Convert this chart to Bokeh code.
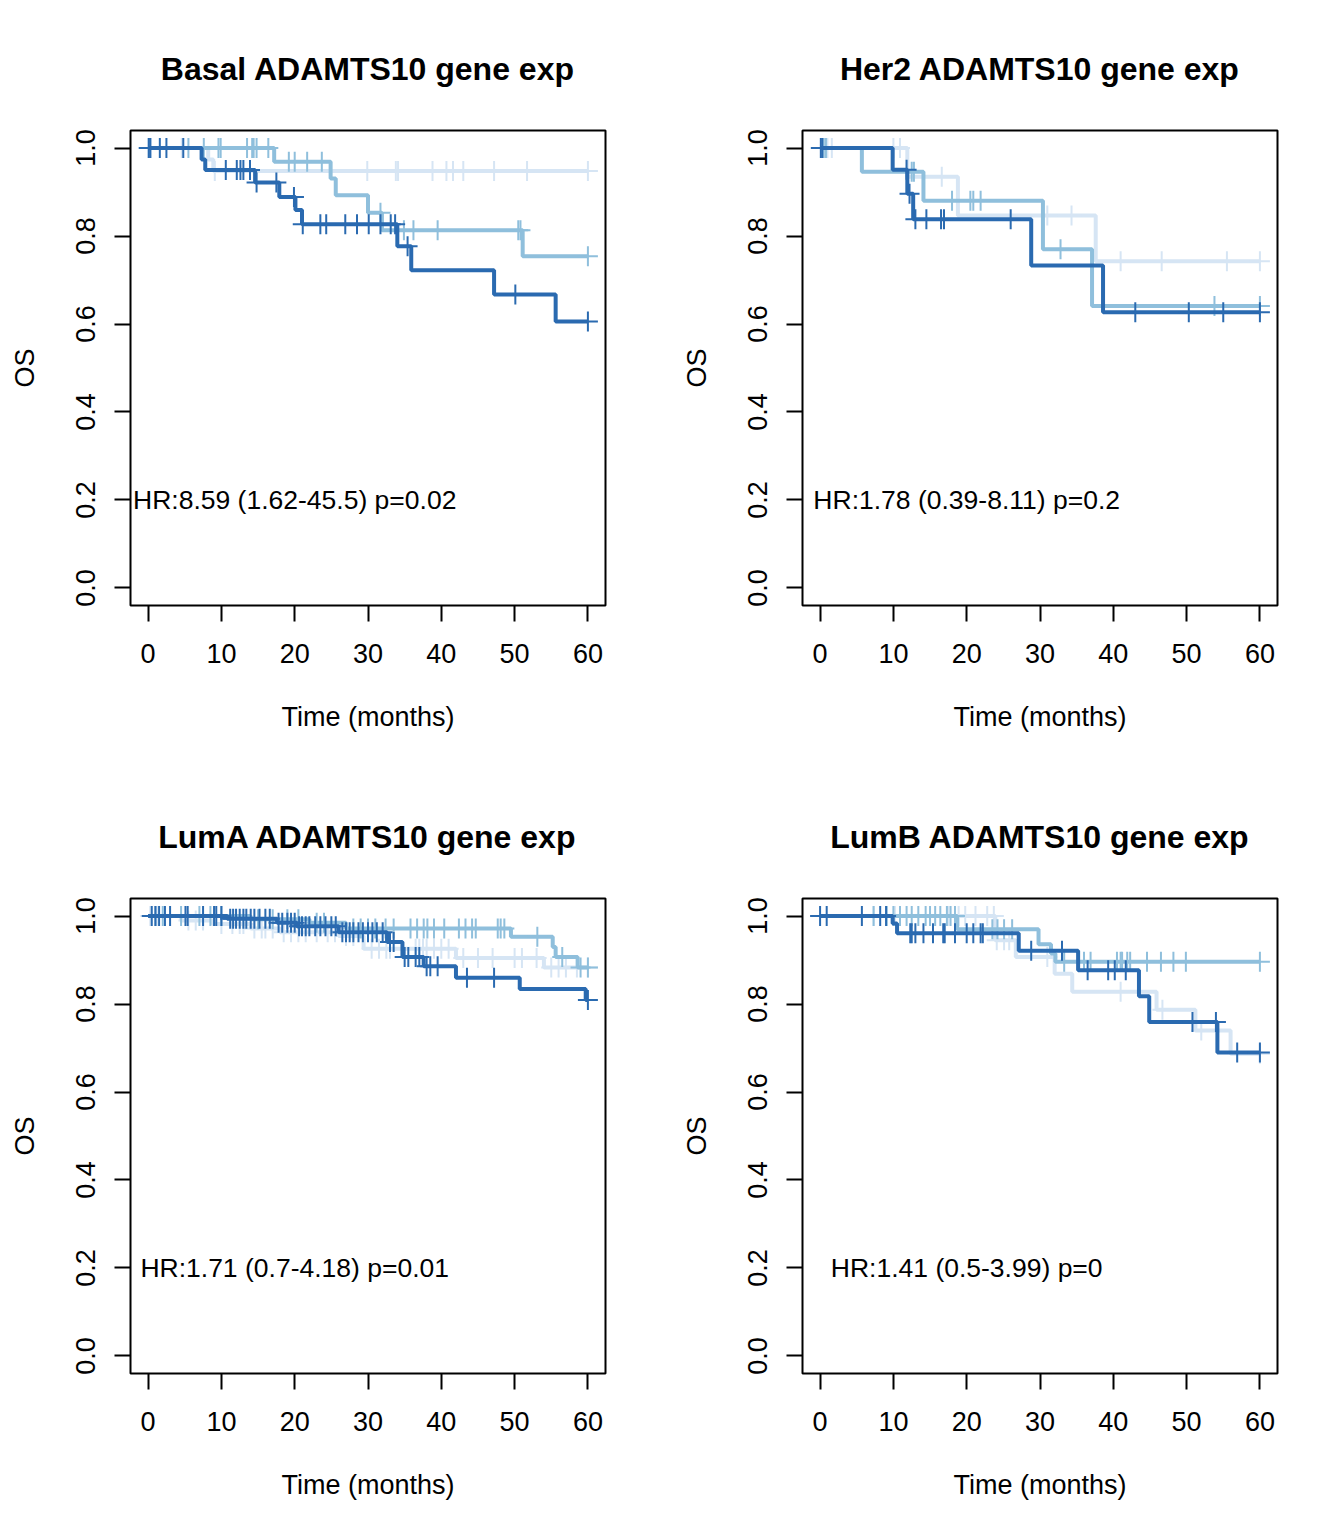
from bokeh.plotting import figure
from bokeh.layouts import column, row
from bokeh.models import Range1d, FixedTicker, PrintfTickFormatter
from bokeh.core.properties import value
from bokeh.embed import file_html
from bokeh.resources import INLINE

# ---------------- data ----------------
x_ticks = [0, 10, 20, 30, 40, 50, 60]
y_ticks = [0.0, 0.2, 0.4, 0.6, 0.8, 1.0]
colors = {"light": "#d6e5f4", "mid": "#8fbfdc", "dark": "#2a6ab0"}

titles = ["Basal ADAMTS10 gene exp", "Her2 ADAMTS10 gene exp",
          "LumA ADAMTS10 gene exp", "LumB ADAMTS10 gene exp"]
hr_texts = ["HR:8.59 (1.62-45.5) p=0.02", "HR:1.78 (0.39-8.11) p=0.2",
            "HR:1.71 (0.7-4.18) p=0.01", "HR:1.41 (0.5-3.99) p=0"]

# Basal
basal_light_t = [8.2, 8.9]
basal_light_s = [0.974, 0.948]
basal_light_c = [0.0, 0.4, 4.6, 9.1, 29.9, 33.8, 34.1, 38.8, 40.7, 41.6, 43.0, 47.2, 51.7, 60.0]
basal_mid_t = [17.2, 24.9, 25.6, 30.0, 31.9, 51.1]
basal_mid_s = [0.969, 0.931, 0.893, 0.853, 0.813, 0.754]
basal_mid_c = [5.5, 7.6, 9.6, 9.9, 13.5, 14.2, 14.4, 14.8, 16.4, 19.2, 20.0, 21.7, 23.7,
               31.7, 34.9, 36.2, 39.5, 50.5, 50.8, 60.0]
basal_dark_t = [7.3, 7.8, 14.6, 17.9, 20.1, 21.0, 34.0, 35.9, 47.2, 55.6]
basal_dark_s = [0.974, 0.950, 0.922, 0.889, 0.859, 0.827, 0.777, 0.722, 0.667, 0.606]
basal_dark_c = [0.1, 0.3, 1.6, 2.5, 4.8, 10.6, 12.1, 12.6, 13.0, 13.9, 14.8, 17.5, 19.9,
                21.1, 23.5, 24.3, 26.9, 28.5, 30.1, 31.7, 33.1, 33.7, 35.4, 50.1, 60.0]

# Her2
her2_light_t = [11.9, 18.8, 37.6]
her2_light_s = [0.935, 0.847, 0.743]
her2_light_c = [1.0, 1.6, 10.0, 10.9, 16.6, 31.0, 34.3, 41.0, 46.6, 55.5, 60.0]
her2_mid_t = [5.7, 14.1, 30.4, 37.1]
her2_mid_s = [0.946, 0.880, 0.770, 0.641]
her2_mid_c = [0.5, 0.8, 12.5, 12.8, 18.0, 20.5, 20.9, 21.9, 32.8, 53.8, 60.0]
her2_dark_t = [9.9, 11.9, 12.7, 28.8, 38.6]
her2_dark_s = [0.951, 0.896, 0.838, 0.733, 0.627]
her2_dark_c = [0.1, 0.3, 11.8, 12.2, 13.0, 14.5, 16.5, 16.9, 26.0, 43.0, 50.3, 55.0, 60.0]

# LumA
luma_light_t = [4.5, 8.8, 14.0, 18.0, 26.0, 29.4, 42.0, 54.0]
luma_light_s = [0.990, 0.982, 0.972, 0.963, 0.955, 0.926, 0.905, 0.883]
luma_light_c = [0.3, 1.2, 5.5, 6.5, 7.5, 10.0, 11.5, 12.5, 13.0, 14.5, 15.5, 16.0, 17.0,
                18.5, 19.5, 20.5, 21.5, 23.0, 24.5, 25.5, 27.0, 28.0, 30.5, 31.5, 32.5,
                33.0, 36.5, 37.0, 37.5, 38.0, 39.0, 40.0, 41.0, 43.0, 45.0, 47.0, 50.0,
                51.0, 53.0, 55.0, 56.0, 57.0, 58.5, 60.0]
luma_mid_t = [14.0, 22.0, 27.0, 49.5, 55.2, 55.6, 58.6]
luma_mid_s = [0.993, 0.985, 0.972, 0.953, 0.930, 0.907, 0.883]
luma_mid_c = [1.0, 2.0, 4.5, 7.0, 8.5, 10.0, 15.0, 17.0, 19.0, 20.5, 23.0, 24.0, 28.0,
              29.0, 30.0, 31.0, 32.4, 33.5, 35.8, 36.7, 37.6, 38.1, 39.0, 40.4, 42.4,
              43.3, 44.2, 44.7, 47.7, 48.1, 48.6, 53.1, 56.5, 59.0, 60.0]
luma_dark_t = [10.8, 17.6, 20.3, 26.0, 32.6, 34.7, 37.6, 42.0, 50.7, 59.7]
luma_dark_s = [0.994, 0.985, 0.977, 0.963, 0.941, 0.907, 0.886, 0.860, 0.834, 0.809]
luma_dark_c = [0.5, 1.0, 1.5, 2.3, 3.0, 5.1, 5.4, 7.5, 9.0, 9.3, 10.0, 11.2, 11.6, 12.0,
               12.5, 13.0, 13.4, 14.0, 14.5, 15.2, 16.0, 16.6, 17.8, 18.3, 19.0, 19.5,
               20.0, 20.6, 21.0, 21.5, 22.0, 22.8, 23.5, 24.2, 25.0, 25.6, 26.5, 27.0,
               27.5, 28.0, 28.7, 29.3, 30.0, 30.6, 31.2, 32.0, 33.0, 33.5, 35.0, 35.5,
               36.5, 37.0, 38.0, 38.5, 39.5, 43.5, 47.2, 60.0]

# LumB
lumb_light_t = [23.9, 26.7, 32.0, 34.4, 45.9, 51.2, 56.0]
lumb_light_s = [0.945, 0.907, 0.869, 0.828, 0.787, 0.740, 0.687]
lumb_light_c = [7.3, 10.2, 17.5, 18.9, 19.8, 21.2, 22.8, 23.7, 24.1, 25.1, 25.8, 31.0,
                41.0, 46.7, 52.0, 60.0]
lumb_mid_t = [18.7, 29.8, 31.5, 32.1]
lumb_mid_s = [0.970, 0.936, 0.915, 0.896]
lumb_mid_c = [7.3, 9.1, 10.0, 10.9, 11.8, 12.5, 13.4, 14.4, 15.0, 15.7, 16.4, 17.3, 17.8,
              18.4, 23.5, 24.2, 25.1, 26.2, 33.3, 36.0, 36.9, 40.5, 41.0, 41.2, 41.9,
              42.3, 44.6, 46.5, 48.2, 49.9, 60.0]
lumb_dark_t = [9.9, 10.5, 27.1, 35.2, 43.5, 44.9, 54.2]
lumb_dark_s = [0.983, 0.961, 0.921, 0.877, 0.818, 0.759, 0.690]
lumb_dark_c = [0.0, 0.9, 5.7, 8.2, 9.0, 12.3, 12.5, 13.0, 14.1, 15.4, 16.8, 17.0, 18.4,
               20.0, 20.9, 21.9, 22.2, 28.8, 33.0, 36.5, 39.3, 40.2, 41.7, 50.8, 54.0,
               56.9, 60.0]

panels_series = [
    [("light", basal_light_t, basal_light_s, basal_light_c),
     ("mid", basal_mid_t, basal_mid_s, basal_mid_c),
     ("dark", basal_dark_t, basal_dark_s, basal_dark_c)],
    [("light", her2_light_t, her2_light_s, her2_light_c),
     ("mid", her2_mid_t, her2_mid_s, her2_mid_c),
     ("dark", her2_dark_t, her2_dark_s, her2_dark_c)],
    [("light", luma_light_t, luma_light_s, luma_light_c),
     ("mid", luma_mid_t, luma_mid_s, luma_mid_c),
     ("dark", luma_dark_t, luma_dark_s, luma_dark_c)],
    [("light", lumb_light_t, lumb_light_s, lumb_light_c),
     ("mid", lumb_mid_t, lumb_mid_s, lumb_mid_c),
     ("dark", lumb_dark_t, lumb_dark_s, lumb_dark_c)],
]

FONT = "Liberation Sans"
T_END = 60.0


def surv_at(ts, ss, c):
    v = 1.0
    for t, s in zip(ts, ss):
        if t <= c:
            v = s
    return v


def make_panel(idx):
    p = figure(width=672, height=768, x_range=Range1d(-2.4, 62.4),
               y_range=Range1d(-0.04, 1.04), output_backend="svg",
               toolbar_location=None, min_border_left=130, min_border_right=67,
               min_border_top=130, min_border_bottom=163)
    p.background_fill_color = "white"
    p.border_fill_color = "white"
    p.grid.visible = False
    p.outline_line_color = "black"
    p.outline_line_width = 2

    p.title.text = titles[idx]
    p.title.align = "center"
    p.title.text_font = FONT
    p.title.text_font_size = "32px"
    p.title.text_font_style = "bold"
    p.title.text_color = "black"
    p.title.standoff = 87

    for ax in (p.xaxis[0], p.yaxis[0]):
        ax.axis_line_color = None
        ax.major_tick_out = 16
        ax.major_tick_in = 0
        ax.minor_tick_out = 0
        ax.minor_tick_in = 0
        ax.major_tick_line_color = "black"
        ax.major_tick_line_width = 2
        ax.major_label_text_font = FONT
        ax.major_label_text_font_size = "27px"
        ax.major_label_text_color = "black"
        ax.axis_label_text_font = FONT
        ax.axis_label_text_font_size = "27px"
        ax.axis_label_text_font_style = "normal"
        ax.axis_label_text_color = "black"

    p.xaxis.ticker = FixedTicker(ticks=x_ticks)
    p.xaxis.axis_label = "Time (months)"
    p.xaxis.major_label_standoff = 22
    p.xaxis.axis_label_standoff = 36

    p.yaxis.ticker = FixedTicker(ticks=y_ticks)
    p.yaxis.formatter = PrintfTickFormatter(format="%.1f")
    p.yaxis.major_label_orientation = "vertical"
    p.yaxis.axis_label = "OS"
    p.yaxis.major_label_standoff = 19
    p.yaxis.axis_label_standoff = 34

    for key, ts, ss, cs in panels_series[idx]:
        col = colors[key]
        xs = [0.0] + list(ts) + [T_END]
        ys = [1.0] + list(ss) + [ss[-1]]
        p.step(x=xs, y=ys, mode="after", line_width=4, line_color=col)
        cy = [surv_at(ts, ss, c) for c in cs]
        p.scatter(x=cs, y=cy, marker="cross", size=20, line_width=2, line_color=col)

    p.text(x=[20], y=[0.2], text=[hr_texts[idx]], text_align="center",
           text_baseline="middle", text_font=value(FONT), text_font_size="26.5px",
           text_color="black")
    return p


p1 = make_panel(0)
p2 = make_panel(1)
p3 = make_panel(2)
p4 = make_panel(3)

layout = column(row(p1, p2), row(p3, p4))
open("out.html", "w").write(file_html(layout, INLINE))
